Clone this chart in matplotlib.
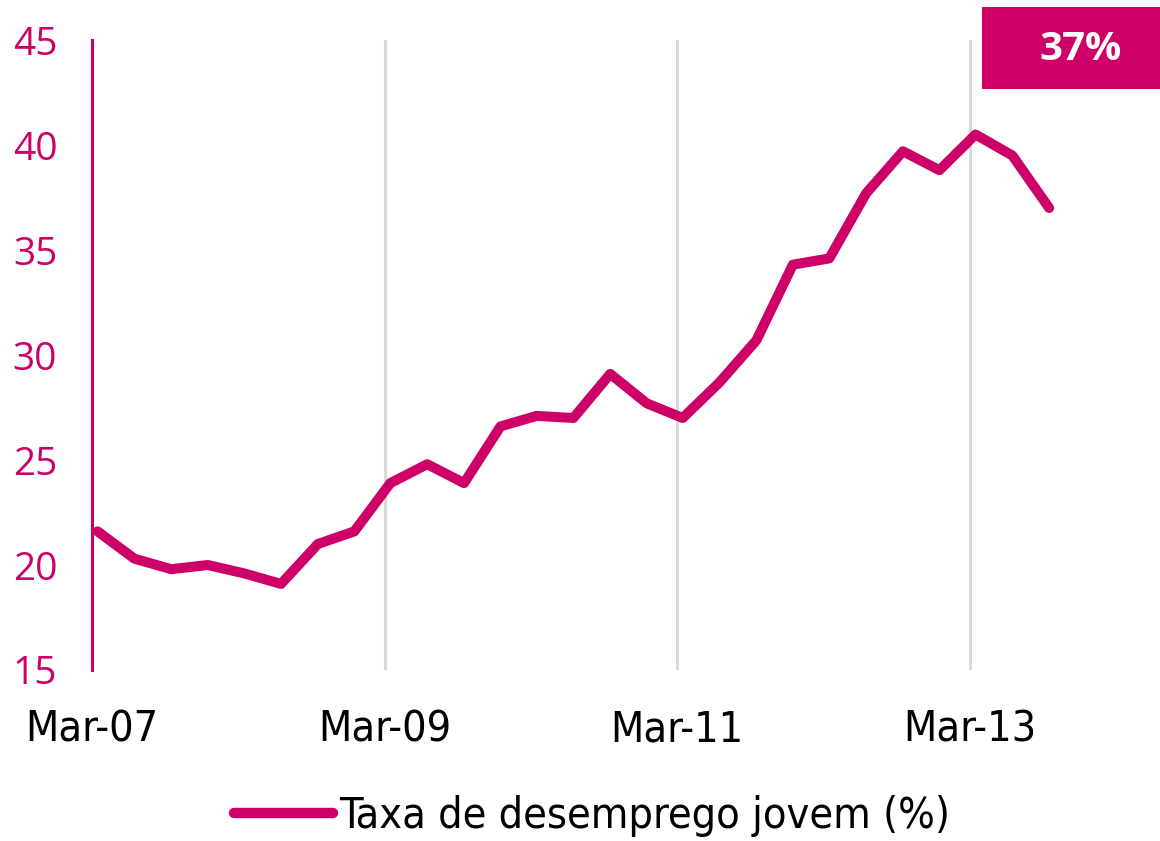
import matplotlib
matplotlib.use("Agg")
import matplotlib.pyplot as plt
from matplotlib.patches import Rectangle
from matplotlib.lines import Line2D
from matplotlib import font_manager
from datetime import datetime

# Youth unemployment rate, quarterly (Mar-07 .. Sep-13)
years = [2007] * 4 + [2008] * 4 + [2009] * 4 + [2010] * 4 + [2011] * 4 + [2012] * 4 + [2013] * 3
months = [3, 6, 9, 12] * 6 + [3, 6, 9]
rate = [21.6, 20.3, 19.8, 20.0, 19.6, 19.1, 21.0, 21.6,
        23.9, 24.8, 23.9, 26.6, 27.1, 27.0, 29.1, 27.7,
        27.0, 28.7, 30.7, 34.3, 34.6, 37.7, 39.7, 38.8,
        40.5, 39.5, 37.0]
tick_years = [2007, 2009, 2011, 2013]
tick_labels = ["Mar-07", "Mar-09", "Mar-11", "Mar-13"]
y_ticks = [15, 20, 25, 30, 35, 40, 45]
series_name = "Taxa de desemprego jovem (%)"
badge = "37%"

magenta = "#CC0066"
grid_grey = "#D9D9D9"

narrow = font_manager.FontProperties(family=["DejaVu Sans"], stretch="condensed", size=31)
legend_font = font_manager.FontProperties(family=["DejaVu Sans"], stretch="condensed", size=31)

dates = [datetime(y, m, 15) for y, m in zip(years, months)]

fig = plt.figure(figsize=(11.6, 8.41), dpi=100)
ax = fig.add_axes([92 / 1160, 1 - 670 / 841, (1080 - 92) / 1160, (670 - 40) / 841])

ax.plot(dates, rate, color=magenta, linewidth=7.2, solid_joinstyle="round",
        solid_capstyle="round", zorder=3)

ax.set_xlim(datetime(2007, 3, 1), datetime(2013, 12, 1))
ax.set_ylim(15, 45)

tick_dates = [datetime(y, 3, 1) for y in tick_years]
ax.set_xticks(tick_dates)
ax.set_xticklabels(tick_labels, fontproperties=narrow)
ax.grid(axis="x", color=grid_grey, linewidth=2.2)
ax.grid(axis="y", visible=False)
ax.set_axisbelow(True)

ax.set_yticks(y_ticks)
ax.set_yticklabels([str(v) for v in y_ticks], fontfamily=["Open Sans", "DejaVu Sans"],
                   fontsize=28, color=magenta)

for s in ["top", "right", "bottom"]:
    ax.spines[s].set_visible(False)
ax.spines["left"].set_color(magenta)
ax.spines["left"].set_linewidth(2.2)
ax.tick_params(axis="both", length=0)
ax.tick_params(axis="x", pad=28)
ax.tick_params(axis="y", pad=25)

# legend
handle = Line2D([], [], color=magenta, linewidth=7.5, solid_capstyle="round")
fig.legend([handle], [series_name], loc="center", bbox_to_anchor=(592 / 1160, 1 - 816 / 841),
           frameon=False, handlelength=2.3, handletextpad=0.15, prop=legend_font)

# badge with latest value
fig.patches.append(Rectangle((982 / 1160, 1 - 89 / 841), 178 / 1160, 82 / 841,
                             transform=fig.transFigure, facecolor=magenta,
                             edgecolor="none"))
fig.text(1081 / 1160, 1 - 50 / 841, badge, color="white", fontsize=29, fontweight="bold",
         family=["Open Sans", "DejaVu Sans"], ha="center", va="center")

fig.savefig("out.png", dpi=100, facecolor="white")
